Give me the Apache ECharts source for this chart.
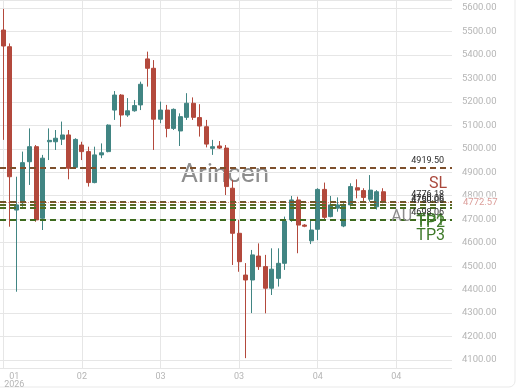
<!DOCTYPE html>
<html>
<head>
<meta charset="utf-8">
<script src="https://cdn.jsdelivr.net/npm/echarts@6/dist/echarts.min.js"></script>
<style>
  html, body { margin: 0; padding: 0; background: #ffffff; }
  #chart { width: 520px; height: 390px; }
</style>
</head>
<body>
<div id="chart"></div>
<script>
// Daily XAU candles (open / close / low / high)
const openP  = [5506, 5435, 4739, 4770, 4945, 5009, 4704, 5030, 5030, 5041,
                5059, 4921, 5016, 4988, 4856, 4974, 4988, 5165, 5229, 5144,
                5162, 5187, 5383, 5343, 5126, 5165, 5087, 5076, 5134, 5194,
                5133, 5094, 5002, 5012, 5003, 4832, 4640, 4462, 4441, 4543,
                4498, 4406, 4448, 4512, 4697, 4782, 4675, 4608, 4657, 4827,
                4711, 4747, 4671, 4761, 4834, 4822, 4785, 4753, 4817];
const closeP = [5438, 4881, 4761, 4941, 5009, 4697, 4960, 5036, 5045, 5059,
                4917, 5040, 4988, 4856, 4974, 4983, 5101, 5229, 5144, 5162,
                5184, 5275, 5343, 5126, 5165, 5087, 5168, 5137, 5194, 5134,
                5097, 5020, 5009, 5003, 4839, 4640, 4519, 4441, 4548, 4498,
                4406, 4487, 4512, 4692, 4782, 4675, 4670, 4654, 4827, 4708,
                4761, 4761, 4761, 4839, 4824, 4793, 4824, 4817, 4772.57];
const lowP   = [5038, 4668, 4391, 4753, 4846, 4689, 4654, 4952, 4995, 5016,
                4870, 4915, 4952, 4839, 4853, 4960, 4985, 5123, 5094, 5136,
                5158, 5165, 5265, 4995, 5109, 5049, 5080, 5012, 5123, 5123,
                5052, 5006, 4974, 4999, 4803, 4505, 4476, 4108, 4300, 4484,
                4299, 4377, 4413, 4484, 4689, 4555, 4666, 4594, 4611, 4697,
                4708, 4732, 4666, 4753, 4789, 4775, 4775, 4741, 4768];
const highP  = [5596, 5449, 4881, 4988, 5087, 5016, 4974, 5087, 5080, 5116,
                5080, 5045, 5030, 5009, 5009, 5023, 5104, 5246, 5233, 5216,
                5208, 5286, 5414, 5378, 5201, 5187, 5172, 5151, 5237, 5219,
                5190, 5123, 5038, 5033, 5016, 4867, 4697, 4513, 4569, 4597,
                4548, 4576, 4576, 4711, 4799, 4796, 4679, 4701, 4832, 4856,
                4799, 4793, 4768, 4853, 4870, 4832, 4888, 4824, 4832];

// Month tick labels shown every 12 sessions, and the year under the first
const tickLabels = ['01', '02', '03', '03', '04', '04'];
const yearLabel = '2026';
const emptySlots = 10;           // room on the right of the last candle

// Trade levels
const slLevel = 4919.50;
const entryLevel = 4776.18;
const tp1Level = 4760.06;
const tp2Level = 4750.06;
const tp3Level = 4698.06;
const lastPrice = 4772.57;
const entryName = 'AU';

const n = openP.length + emptySlots;
const categories = Array.from({ length: n }, (_, i) => i);
const candles = openP.map((o, i) => [o, closeP[i], lowP[i], highP[i]]);

const UP = '#418583';
const DOWN = '#b3493c';
const FONT = 'Roboto, "Noto Sans", sans-serif';

function levelLine(value, color, text) {
  return {
    yAxis: value,
    lineStyle: { color: color, type: [6, 4], width: 2 },
    label: {
      show: true, position: 'insideEndTop', formatter: text,
      color: '#2b2b2b', fontSize: 9, fontFamily: FONT, distance: [8, 2]
    }
  };
}
function levelName(value, color, text, dx) {
  return {
    yAxis: value,
    lineStyle: { color: 'rgba(0,0,0,0)', width: 0 },
    label: {
      show: true, position: 'insideEndBottom', formatter: text,
      color: color, fontSize: 16, fontFamily: FONT, distance: [dx, 8]
    }
  };
}

const chart = echarts.init(document.getElementById('chart'), null, { renderer: 'canvas' });
chart.setOption({
  animation: false,
  backgroundColor: '#ffffff',
  grid: { left: 0, right: 68, top: 0, bottom: 22 },
  graphic: [
    {
      type: 'rect', z: -10, silent: true,
      shape: { x: -10, y: -10, width: 525, height: 397, r: 6 },
      style: { fill: 'none', stroke: '#e9e9e9', lineWidth: 1 }
    },
    {
      type: 'text', left: 181, top: 162, z: -5, silent: true,
      style: { text: 'Arincen', fill: '#8e8e8e', font: '26px ' + FONT }
    }
  ],
  xAxis: {
    type: 'category',
    data: categories,
    boundaryGap: true,
    axisLine: { show: false },
    axisTick: { show: false, alignWithLabel: true },
    splitLine: { show: true, interval: 11, alignWithLabel: true,
                 lineStyle: { color: '#e6e6e6', width: 1 } },
    axisLabel: {
      interval: 11,
      color: '#b5b5b5', fontSize: 9, fontFamily: FONT, margin: 4, lineHeight: 8.5,
      alignMinLabel: 'left',
      formatter: (v, idx) => {
        const k = Math.floor(idx / 12);
        if (idx % 12 !== 0 || k >= tickLabels.length) return '';
        return idx === 0 ? '{c|' + tickLabels[0] + '}\n{c|' + yearLabel + '}' : tickLabels[k];
      },
      rich: { c: { width: 22, align: 'center', color: '#b5b5b5', fontSize: 9, lineHeight: 8.5, fontFamily: FONT } }
    }
  },
  yAxis: {
    type: 'value',
    position: 'right',
    scale: true,
    min: 4066,
    max: 5634,
    minInterval: 100,
    maxInterval: 100,
    splitNumber: 15,
    axisLine: { show: false },
    axisTick: { show: false },
    splitLine: { show: true, lineStyle: { color: '#e6e6e6', width: 1 } },
    axisLabel: {
      color: '#b5b5b5', fontSize: 9.5, fontFamily: FONT, margin: 10,
      showMinLabel: false, showMaxLabel: false,
      formatter: v => v.toFixed(2)
    }
  },
  series: [
    {
      type: 'candlestick',
      data: candles,
      barWidth: 4.5,
      itemStyle: { color: UP, color0: DOWN, borderColor: UP, borderColor0: DOWN, borderWidth: 1 },
      markLine: {
        silent: true,
        symbol: 'none',
        animation: false,
        data: [
          levelLine(slLevel, '#7d4f2b', slLevel.toFixed(2)),
          levelName(slLevel, '#a9473b', 'SL', 5),
          levelLine(entryLevel, '#6a5a2a', entryLevel.toFixed(2)),
          levelName(entryLevel, '#8c8c8c', entryName, 40),
          levelLine(tp1Level, '#5a6a26', tp1Level.toFixed(2)),
          levelName(tp1Level, '#3f7a2a', 'TP1', 7),
          levelLine(tp2Level, '#4d6d22', tp2Level.toFixed(2)),
          levelName(tp2Level, '#3f7a2a', 'TP2', 7),
          levelLine(tp3Level, '#3d6a1e', tp3Level.toFixed(2)),
          levelName(tp3Level, '#3f7a2a', 'TP3', 7),
          {
            yAxis: lastPrice,
            lineStyle: { color: '#c0392b', type: 'dotted', width: 1, opacity: 0.5 },
            label: {
              show: true, position: 'end', formatter: lastPrice.toFixed(2),
              color: '#b83a32', fontSize: 9.5, fontFamily: FONT, distance: 9,
              backgroundColor: '#ffffff', padding: [1, 2]
            }
          }
        ]
      }
    }
  ]
});
</script>
</body>
</html>
